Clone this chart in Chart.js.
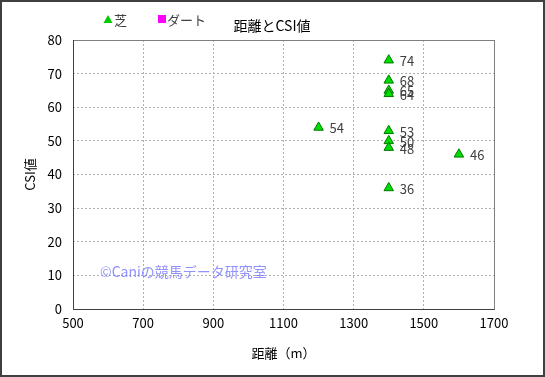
<!DOCTYPE html>
<html>
<head>
<meta charset="utf-8">
<script src="https://cdn.jsdelivr.net/npm/chart.js@4"></script>
<style>
  html, body { margin: 0; padding: 0; background: #fff; }
  #wrap { width: 545px; height: 377px; }
</style>
</head>
<body>
<div id="wrap"><canvas id="c" width="545" height="377"></canvas></div>
<script>
// 距離とCSI値
const turfDistance = [1400, 1400, 1400, 1400, 1200, 1400, 1400, 1400, 1600, 1400];
const turfCsi = [74, 68, 65, 64, 54, 53, 50, 48, 46, 36];
const dirtDistance = [];
const dirtCsi = [];
const seriesNames = ["芝", "ダート"];
const chartTitle = "距離とCSI値";
const xTitle = "距離（m）";
const yTitle = "CSI値";
const watermark = "©Caniの競馬データ研究室";

const FONT = "'Noto Sans CJK JP', 'DejaVu Sans', sans-serif";

const toPoints = (xs, ys) => xs.map((x, i) => ({ x, y: ys[i] }));

// frame, legend, title, point labels, watermark
const decor = {
  id: "decor",
  beforeDraw(chart) {
    const ctx = chart.ctx;
    ctx.save();
    ctx.fillStyle = "#fff";
    ctx.fillRect(0, 0, chart.width, chart.height);
    ctx.restore();
  },
  afterDraw(chart) {
    const ctx = chart.ctx;
    const area = chart.chartArea;
    ctx.save();

    // plot frame
    ctx.strokeStyle = "#808080";
    ctx.lineWidth = 1;
    ctx.strokeRect(area.left + 0.5, area.top + 0.5, area.right - area.left, area.bottom - area.top);
    ctx.strokeStyle = "#404040";
    ctx.beginPath();
    ctx.moveTo(area.left + 0.5, area.top);
    ctx.lineTo(area.left + 0.5, area.bottom + 0.5);
    ctx.lineTo(area.right + 0.5, area.bottom + 0.5);
    ctx.stroke();

    // outer frame
    ctx.strokeStyle = "#404040";
    ctx.lineWidth = 2;
    ctx.strokeRect(1, 1, chart.width - 2, chart.height - 2);

    // legend
    ctx.font = "13px " + FONT;
    ctx.textBaseline = "middle";
    ctx.textAlign = "left";
    ctx.fillStyle = "#00cc00";
    ctx.beginPath();
    ctx.moveTo(108, 15);
    ctx.lineTo(112.5, 23);
    ctx.lineTo(103.5, 23);
    ctx.closePath();
    ctx.fill();
    ctx.fillStyle = "#404040";
    ctx.fillText(seriesNames[0], 114, 20);
    ctx.fillStyle = "#ff00ff";
    ctx.fillRect(158, 15, 8, 8);
    ctx.fillStyle = "#404040";
    ctx.fillText(seriesNames[1], 167, 20);

    // title
    ctx.fillStyle = "#000";
    ctx.font = "14px " + FONT;
    ctx.textAlign = "center";
    ctx.fillText(chartTitle, 272, 26);

    // point labels
    ctx.font = "13px " + FONT;
    ctx.textAlign = "left";
    ctx.fillStyle = "#404040";
    chart.data.datasets.forEach((ds, di) => {
      const meta = chart.getDatasetMeta(di);
      meta.data.forEach((pt, i) => {
        ctx.fillText(String(ds.data[i].y), pt.x + 11, pt.y + 1);
      });
    });

    // watermark
    ctx.fillStyle = "rgba(110,110,255,0.75)";
    ctx.font = "14px " + FONT;
    ctx.fillText(watermark, 100, 272);

    ctx.restore();
  },
};

new Chart(document.getElementById("c"), {
  type: "scatter",
  data: {
    datasets: [
      {
        label: seriesNames[0],
        data: toPoints(turfDistance, turfCsi),
        pointStyle: "triangle",
        pointRadius: 5.5,
        pointHoverRadius: 5.5,
        backgroundColor: "#00dd00",
        borderColor: "#007700",
        borderWidth: 1,
      },
      {
        label: seriesNames[1],
        data: toPoints(dirtDistance, dirtCsi),
        pointStyle: "rect",
        pointRadius: 4,
        backgroundColor: "#ff00ff",
        borderColor: "#ff00ff",
      },
    ],
  },
  options: {
    responsive: false,
    animation: false,
    layout: { padding: { top: 40, right: 51, bottom: 0, left: 0 } },
    plugins: {
      legend: { display: false },
      title: { display: false },
      tooltip: { enabled: false },
    },
    scales: {
      x: {
        type: "linear",
        min: 500,
        max: 1700,
        afterFit(scale) { scale.height = 68; },
        ticks: {
          stepSize: 200,
          padding: 6,
          color: "#000",
          font: { family: FONT, size: 13 },
          maxRotation: 0,
          callback: (v) => String(v),
        },
        grid: {
          color: "#b0b0b0",
          drawTicks: false,
        },
        border: { display: false, dash: [2, 2] },
        title: {
          display: true,
          text: xTitle,
          color: "#000",
          font: { family: FONT, size: 13 },
          padding: { top: 0, bottom: 16 },
        },
      },
      y: {
        min: 0,
        max: 80,
        afterFit(scale) { scale.width = 73; },
        ticks: {
          stepSize: 10,
          padding: 11,
          color: "#000",
          font: { family: FONT, size: 13 },
        },
        grid: {
          color: "#b0b0b0",
          drawTicks: false,
        },
        border: { display: false, dash: [2, 2] },
        title: {
          display: true,
          text: yTitle,
          color: "#000",
          font: { family: FONT, size: 13 },
          padding: { top: 22, bottom: 0 },
        },
      },
    },
  },
  plugins: [decor],
});
</script>
</body>
</html>
